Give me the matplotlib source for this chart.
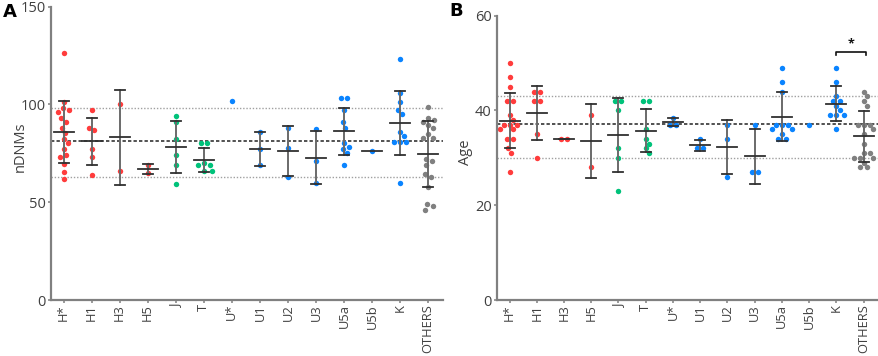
import numpy as np
import matplotlib
matplotlib.use("Agg")
import matplotlib.pyplot as plt

plt.rcParams['font.family'] = ['Open Sans', 'DejaVu Sans']

# ---------------- data ----------------
categories = ['H*', 'H1', 'H3', 'H5', 'J', 'T', 'U*', 'U1', 'U2', 'U3',
              'U5a', 'U5b', 'K', 'OTHERS']

# Panel A: number of de novo mutations (nDNMs)
a_H_star = [126.2, 101.4, 98.0, 97.2, 96.2, 92.9, 91.2, 88.1, 85.6, 82.2,
            80.1, 77.1, 74.2, 73.0, 69.4, 65.6, 62.0]
a_H1 = [97.2, 88.1, 87.1, 77.1, 73.1, 64.1]
a_H3 = [100.2, 66.1]
a_H5 = [69.0, 65.1]
a_J = [94.1, 90.9, 82.2, 74.2, 69.0, 59.2]
a_T = [80.1, 80.1, 69.9, 69.0, 69.0, 66.1, 66.1]
a_U_star = [101.9]
a_U1 = [86.1, 77.1, 68.9]
a_U2 = [88.1, 77.9, 62.9]
a_U3 = [87.3, 71.1, 60.0]
a_U5a = [103.2, 103.2, 97.2, 91.1, 88.1, 80.1, 78.1, 77.1, 75.0, 69.0]
a_U5b = [76.0]
a_K = [123.1, 106.0, 101.1, 97.2, 95.1, 86.1, 84.0, 81.0, 81.0, 81.0, 60.0]
a_OTHERS = [98.9, 92.9, 92.1, 91.2, 89.5, 87.8, 84.7, 83.0, 83.0, 72.1,
            71.1, 69.0, 64.3, 63.1, 58.0, 48.9, 48.1, 46.0]
a_ref_mean = 81.2
a_ref_low, a_ref_high = 63.1, 98.0

# Panel B: Age
b_H_star = [50, 47, 45, 42, 42, 39, 38, 37, 37, 37, 36, 36, 34, 34, 32, 31, 27]
b_H1 = [44, 44, 42, 42, 35, 30]
b_H3 = [34, 34]
b_H5 = [39, 28]
b_J = [42, 42, 40, 32, 30, 23]
b_T = [42, 42, 36, 34, 33, 32, 31]
b_U_star = [38.5, 37, 37]
b_U1 = [34, 32, 32]
b_U2 = [37, 34, 26]
b_U3 = [37, 27, 27]
b_U5a = [49, 46, 44, 37, 37, 37, 36, 36, 35, 34, 34]
b_U5b = [37]
b_K = [49, 46, 43, 42, 42, 41, 40, 39, 39, 39, 36]
b_OTHERS = [44, 43, 42, 41, 37, 37, 37, 36, 35, 33, 31, 31, 30, 30, 30, 29, 28, 28]
b_ref_mean = 37.1
b_ref_low, b_ref_high = 30.0, 43.0

panel_a = [a_H_star, a_H1, a_H3, a_H5, a_J, a_T, a_U_star, a_U1, a_U2, a_U3,
           a_U5a, a_U5b, a_K, a_OTHERS]
panel_b = [b_H_star, b_H1, b_H3, b_H5, b_J, b_T, b_U_star, b_U1, b_U2, b_U3,
           b_U5a, b_U5b, b_K, b_OTHERS]

# ---------------- styles ----------------
RED = '#ff3c3c'
GREEN = '#00c27a'
BLUE = '#0a84ff'
GREY = '#808080'
colors = [RED, RED, RED, RED, GREEN, GREEN, BLUE, BLUE, BLUE, BLUE, BLUE, BLUE,
          BLUE, GREY]
SPINE = '#808080'
TXT = '#404040'


def swarm_offsets(values, ppx, ppy, d):
    vals = np.asarray(values, float)
    order = np.argsort(-vals, kind='stable')
    px, py, idx = [], [], []
    for i in order:
        y = vals[i] * ppy
        cands = [0.0]
        for xj, yj in zip(px, py):
            dy = y - yj
            if abs(dy) < d:
                dx = np.sqrt(d * d - dy * dy)
                cands += [xj + dx, xj - dx]
        cands = sorted(cands, key=lambda c: (abs(c), -c))
        chosen = cands[-1]
        for c in cands:
            if all((c - xj) ** 2 + (y - yj) ** 2 >= d * d - 1e-6
                   for xj, yj in zip(px, py)):
                chosen = c
                break
        px.append(chosen)
        py.append(y)
        idx.append(i)
    px = np.array(px)
    py = np.array(py)
    # centre small clusters of touching points around the category axis
    n = len(px)
    labels = -np.ones(n, int)
    lab = 0
    for s in range(n):
        if labels[s] >= 0:
            continue
        stack = [s]
        labels[s] = lab
        while stack:
            k = stack.pop()
            for j in range(n):
                if labels[j] < 0 and abs(py[j] - py[k]) < d * 0.999:
                    labels[j] = lab
                    stack.append(j)
        lab += 1
    for l in range(lab):
        m = labels == l
        if 1 < m.sum() <= 3:
            px[m] -= px[m].mean()
    offs = np.zeros(n)
    offs[np.array(idx)] = px / ppx
    return offs


def draw_panel(ax, data, ylim, yticks, ylabel, ref_mean, ref_lo, ref_hi,
               single_mean=()):
    n = len(categories)
    ax.set_xlim(-0.45, n - 1 + 0.53)
    ax.set_ylim(*ylim)
    fig = ax.figure
    fig.canvas.draw()
    p0 = ax.transData.transform((0, 0))
    p1 = ax.transData.transform((1, 1))
    ppx, ppy = p1[0] - p0[0], p1[1] - p0[1]

    ax.axhline(ref_mean, color='#222222', lw=1.1, ls=(0, (2.2, 1.4)), zorder=1)
    for r in (ref_lo, ref_hi):
        ax.axhline(r, color='#a0a0a0', lw=1.0, ls=(0, (1, 1.3)), zorder=1)

    hw_mean = 10.0 / ppx
    hw_cap = 5.0 / ppx
    for i, (vals, col) in enumerate(zip(data, colors)):
        vals = np.asarray(vals, float)
        offs = swarm_offsets(vals, ppx, ppy, 6.0)
        ax.plot(i + offs, vals, 'o', ms=3.9, color=col, mec='none',
                zorder=2, clip_on=False)
        m = vals.mean()
        if len(vals) >= 2:
            s = vals.std(ddof=1)
            ax.plot([i, i], [m - s, m + s], color='#6a6a6a', lw=1.4, zorder=3)
            for yy in (m - s, m + s):
                ax.plot([i - hw_cap, i + hw_cap], [yy, yy], color='#303030',
                        lw=1.3, zorder=3)
            ax.plot([i - hw_mean, i + hw_mean], [m, m], color='#303030',
                    lw=1.3, zorder=3)
        elif categories[i] in single_mean:
            ax.plot([i - hw_mean, i + hw_mean], [m, m], color='#303030',
                    lw=1.3, zorder=3)

    ax.set_xticks(range(n))
    ax.set_xticklabels(categories, rotation=90, fontsize=9.3, color=TXT)
    ax.set_yticks(yticks)
    ax.set_yticklabels([str(t) for t in yticks], fontsize=10.5, color=TXT)
    for side in ('top', 'right'):
        ax.spines[side].set_visible(False)
    for side in ('left', 'bottom'):
        ax.spines[side].set_color(SPINE)
        ax.spines[side].set_linewidth(1.6)
    ax.tick_params(axis='y', direction='out', length=2.5, width=1.1,
                   color=SPINE, pad=1.5)
    ax.tick_params(axis='x', direction='out', length=2.0, width=1.1,
                   color=SPINE, pad=0.8)
    ax.set_ylabel(ylabel, fontsize=10.5, color=TXT)


fig = plt.figure(figsize=(8.79, 3.56), dpi=100)
W, H = 879.0, 356.0
axA = fig.add_axes([51 / W, 56 / H, (443 - 51) / W, (300 - 6.7) / H])
axB = fig.add_axes([497.3 / W, 56 / H, (878 - 497.3) / W, (300 - 15.7) / H])

draw_panel(axA, panel_a, (0, 150), [0, 50, 100, 150], 'nDNMs',
           a_ref_mean, a_ref_low, a_ref_high, single_mean=('U5b',))
draw_panel(axB, panel_b, (0, 60), [0, 20, 40, 60], 'Age',
           b_ref_mean, b_ref_low, b_ref_high)

axA.yaxis.set_label_coords(-0.059, 0.523)
axB.yaxis.set_label_coords(-0.064, 0.52)

# significance bracket K vs OTHERS
k_i, o_i = categories.index('K'), categories.index('OTHERS')
axB.plot([k_i - 0.03, k_i - 0.03, o_i + 0.1, o_i + 0.1],
         [51.7, 52.4, 52.4, 51.7], color='#111111', lw=1.2, clip_on=False)
axB.text((k_i + o_i) / 2 + 0.04, 52.6, '*', ha='center', va='bottom',
         fontsize=9, color='#111111', fontweight='bold')

fig.text(3 / W, 1 - 3 / H, 'A', fontsize=13, fontweight='bold', va='top',
         ha='left', family='DejaVu Sans')
fig.text(449 / W, 1 - 2 / H, 'B', fontsize=13, fontweight='bold', va='top',
         ha='left', family='DejaVu Sans')

fig.savefig('out.png', dpi=100)
